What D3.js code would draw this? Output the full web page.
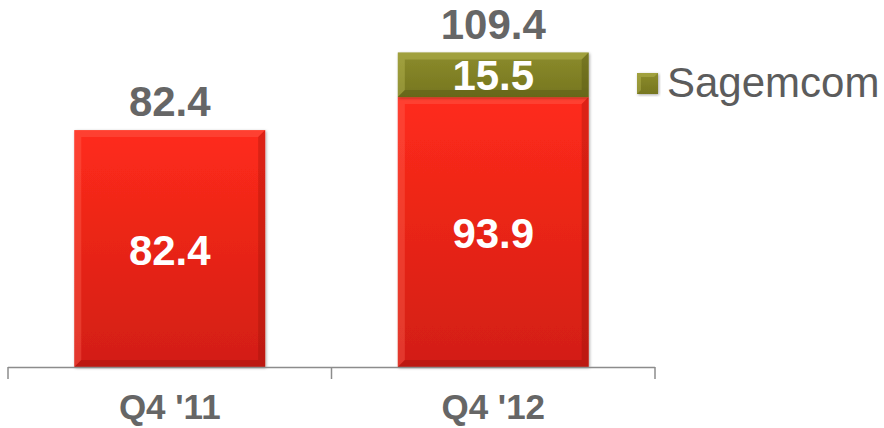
<!DOCTYPE html>
<html>
<head>
<meta charset="utf-8">
<script src="https://cdn.jsdelivr.net/npm/d3@7"></script>
<style>
  body { margin: 0; background: #fff; }
  text { font-family: "Liberation Sans", Arial, sans-serif; }
</style>
</head>
<body>
<svg id="chart" width="884" height="428"></svg>
<script>
// datos del grafico
const categories = ["Q4 '11", "Q4 '12"];
const baseValues = [82.4, 93.9];
const sagemcomValues = [0, 15.5];
const totals = [82.4, 109.4];

const svg = d3.select("#chart");

const x = d3.scaleBand().domain(categories).range([8, 655]).paddingInner(0.41).paddingOuter(0.205);
const y = d3.scaleLinear().domain([0, 109.4]).range([367, 52.5]);

const defs = svg.append("defs");

const redGrad = defs.append("linearGradient").attr("id", "redGrad")
    .attr("x1", 0).attr("y1", 0).attr("x2", 0).attr("y2", 1);
redGrad.append("stop").attr("offset", "0%").attr("stop-color", "#ff2b1b");
redGrad.append("stop").attr("offset", "100%").attr("stop-color", "#d21e14");

const oliveGrad = defs.append("linearGradient").attr("id", "oliveGrad")
    .attr("x1", 0).attr("y1", 0).attr("x2", 0).attr("y2", 1);
oliveGrad.append("stop").attr("offset", "0%").attr("stop-color", "#8c8c2c");
oliveGrad.append("stop").attr("offset", "100%").attr("stop-color", "#76761f");

const shadow = defs.append("filter").attr("id", "shadow")
    .attr("x", "-10%").attr("y", "-10%").attr("width", "120%").attr("height", "120%");
shadow.append("feDropShadow").attr("dx", 1).attr("dy", 1).attr("stdDeviation", 1.5)
    .attr("flood-color", "#000").attr("flood-opacity", 0.35);

// bevel: borde interior claro arriba/izquierda, oscuro abajo/derecha
const drawBar = (xPos, yTop, w, h, fill, light, dark, b) => {
    const g = svg.append("g");
    g.append("rect").attr("x", xPos).attr("y", yTop).attr("width", w).attr("height", h)
        .attr("fill", fill).attr("filter", "url(#shadow)");
    g.append("path")
        .attr("d", `M${xPos},${yTop}h${w}l${-b},${b}h${-(w - 2 * b)}v${h - 2 * b}l${-b},${b}z`)
        .attr("fill", light).attr("opacity", 0.35);
    g.append("path")
        .attr("d", `M${xPos + w},${yTop}v${h}h${-w}l${b},${-b}h${w - 2 * b}v${-(h - 2 * b)}z`)
        .attr("fill", dark).attr("opacity", 0.25);
};

categories.forEach((c, i) => {
    const bx = x(c), bw = x.bandwidth();
    drawBar(bx, y(baseValues[i]), bw, y(0) - y(baseValues[i]), "url(#redGrad)", "#ff6a5a", "#7a0a04", 7);
    if (sagemcomValues[i] > 0) {
        const top = y(baseValues[i] + sagemcomValues[i]);
        drawBar(bx, top, bw, y(baseValues[i]) - top, "url(#oliveGrad)", "#c8c860", "#3a3a08", 7);
    }
});

// axis
const axisG = svg.append("g");
axisG.append("line").attr("x1", 8).attr("x2", 655).attr("y1", 367.5).attr("y2", 367.5)
    .attr("stroke", "#8c8c8c").attr("stroke-width", 1.5);
const midTick = (x(categories[0]) + x.bandwidth() + x(categories[1])) / 2;
[8, midTick, 655].forEach(t => {
    axisG.append("line").attr("x1", t).attr("x2", t).attr("y1", 367).attr("y2", 379)
        .attr("stroke", "#8c8c8c").attr("stroke-width", 1.5);
});

// category labels
svg.selectAll(".cat").data(categories).join("text")
    .attr("x", d => x(d) + x.bandwidth() / 2).attr("y", 419)
    .attr("text-anchor", "middle").attr("font-size", 35).attr("font-weight", "bold")
    .attr("fill", "#666").text(d => d);

// totals
svg.selectAll(".tot").data(totals).join("text")
    .attr("x", (d, i) => x(categories[i]) + x.bandwidth() / 2)
    .attr("y", d => y(d) - 14)
    .attr("text-anchor", "middle").attr("font-size", 42).attr("font-weight", "bold")
    .attr("fill", "#666").text(d => d.toFixed(1));

// values inside bars
svg.selectAll(".base").data(baseValues).join("text")
    .attr("x", (d, i) => x(categories[i]) + x.bandwidth() / 2)
    .attr("y", d => (y(d) + y(0)) / 2 + 16)
    .attr("text-anchor", "middle").attr("font-size", 42).attr("font-weight", "bold")
    .attr("fill", "#fff").text(d => d.toFixed(1));

svg.selectAll(".sag").data(sagemcomValues.filter(v => v > 0)).join("text")
    .attr("x", x(categories[1]) + x.bandwidth() / 2)
    .attr("y", d => (y(baseValues[1] + d) + y(baseValues[1])) / 2 + 15.5)
    .attr("text-anchor", "middle").attr("font-size", 42).attr("font-weight", "bold")
    .attr("fill", "#fff").text(d => d.toFixed(1));

// legend
const leg = svg.append("g").attr("transform", "translate(637,73)");
leg.append("rect").attr("width", 21).attr("height", 21).attr("fill", "url(#oliveGrad)")
    .attr("filter", "url(#shadow)");
leg.append("path").attr("d", "M0,0h21l-4,4h-13v13l-4,4z").attr("fill", "#c8c860").attr("opacity", 0.35);
leg.append("text").attr("x", 30).attr("y", 24).attr("font-size", 42)
    .attr("fill", "#5c5c5c").text("Sagemcom");
</script>
</body>
</html>
